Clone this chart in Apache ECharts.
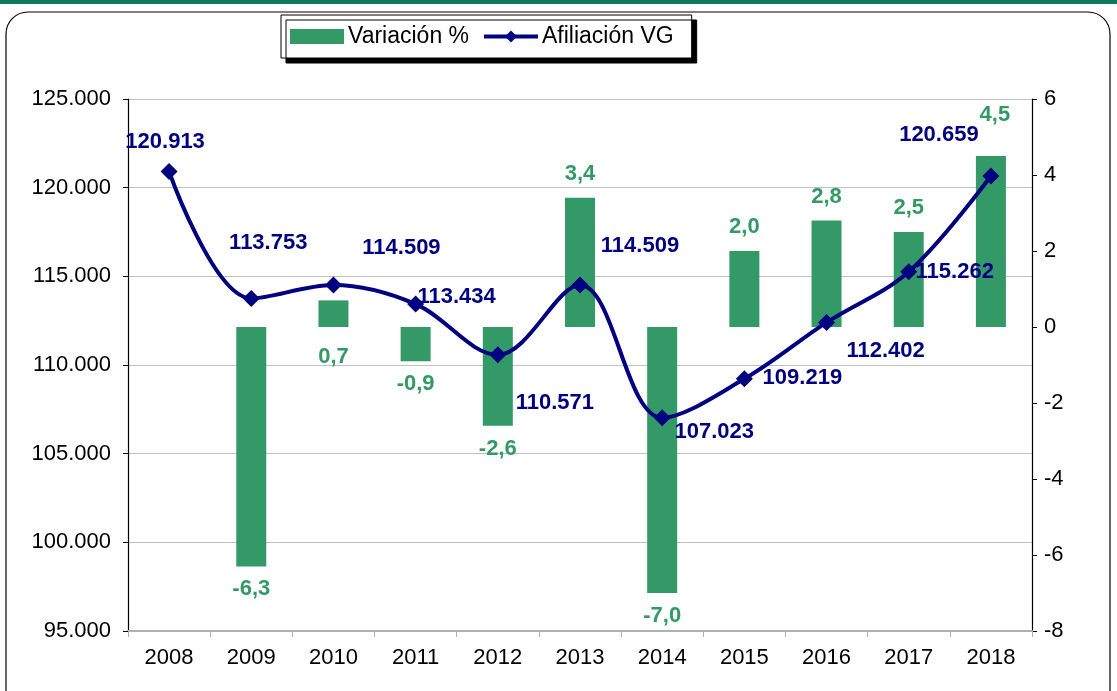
<!DOCTYPE html>
<html>
<head>
<meta charset="utf-8">
<script src="https://cdn.jsdelivr.net/npm/echarts@6/dist/echarts.min.js"></script>
<style>
  html, body { margin: 0; padding: 0; background: #fff; }
  #chart { width: 1117px; height: 691px; }
</style>
</head>
<body>
<div id="chart"></div>
<script>
// data
let years = ['2008', '2009', '2010', '2011', '2012', '2013', '2014', '2015', '2016', '2017', '2018'];
let variacion = [null, -6.3, 0.7, -0.9, -2.6, 3.4, -7.0, 2.0, 2.8, 2.5, 4.5];
let afiliacion = [120913, 113753, 114509, 113434, 110571, 114509, 107023, 109219, 112402, 115262, 120659];

// label offsets for the line labels, as placed in the original
let lineLabelOffsets = [[-4, -30], [17, -56], [68, -37], [41, -7], [57, 48], [60, -39], [52, 14], [58, -1], [59, 29], [46, 0], [-52, -41]];

let fontFam = 'Liberation Sans, Arial, sans-serif';

function fmtThousands(v) {
    return String(v).replace(/\B(?=(\d{3})+(?!\d))/g, '.');
}

let domObj = document.getElementById('chart');
let chart = echarts.init(domObj);

let barData = variacion.map(function (v, i) {
    if (v === null) {
        return null;
    }
    let item = { value: v, label: { position: v < 0 ? 'bottom' : 'top', distance: v < 0 ? 12 : 13 } };
    if (i === 2) {
        // 0,7 sits under the baseline in the original
        item.label = { position: 'bottom', distance: 8, offset: [0, 11] };
    }
    if (i === 10) {
        item.label.offset = [4, -17];
    }
    return item;
});

let lineData = afiliacion.map(function (v, i) {
    return { value: v, label: { offset: lineLabelOffsets[i] } };
});

let curOpts = {
    animation: false,
    textStyle: { fontFamily: fontFam },
    graphic: [
        {
            type: 'rect',
            shape: { x: 0, y: 0, width: 1117, height: 4 },
            style: { fill: '#0f7a5c' },
            silent: true,
        },
        {
            type: 'rect',
            shape: { x: 6, y: 12, width: 1104, height: 700, r: 22 },
            style: { fill: 'none', stroke: '#000', lineWidth: 1.2 },
            silent: true,
            z: -1,
        },
    ],
    legend: {
        top: 15,
        left: 281,
        itemGap: 13,
        padding: [10, 18, 10, 9],
        backgroundColor: '#fff',
        borderColor: '#000',
        borderWidth: 1,
        shadowColor: '#000',
        shadowOffsetX: 5,
        shadowOffsetY: 5,
        shadowBlur: 0,
        itemWidth: 54,
        itemHeight: 15,
        textStyle: { fontSize: 23, color: '#000', fontFamily: fontFam, padding: [0, 0, 0, -1] },
        data: [
            { name: 'Variación %', icon: 'rect' },
            { name: 'Afiliación VG', lineStyle: { width: 4 } },
        ],
    },
    grid: {
        left: 128,
        right: 85,
        top: 99,
        bottom: 60,
    },
    xAxis: {
        type: 'category',
        data: years,
        axisLine: { onZero: false, lineStyle: { color: '#b0b0b0', width: 2 } },
        axisTick: { show: true, length: 6, lineStyle: { color: '#b0b0b0' } },
        axisLabel: { color: '#000', fontSize: 22, margin: 16 },
    },
    yAxis: [
        {
            type: 'value',
            min: 95000,
            max: 125000,
            interval: 5000,
            position: 'left',
            axisLine: { show: true, lineStyle: { color: '#000', width: 1.2 } },
            axisTick: { show: true, length: 5, lineStyle: { color: '#000' } },
            splitLine: { lineStyle: { color: '#c0c0c0' } },
            axisLabel: {
                color: '#000',
                fontSize: 22,
                margin: 17,
                formatter: fmtThousands,
            },
        },
        {
            type: 'value',
            min: -8,
            max: 6,
            interval: 2,
            position: 'right',
            axisLine: { show: true, lineStyle: { color: '#000', width: 1.2 } },
            axisTick: { show: true, length: 5, lineStyle: { color: '#000' } },
            splitLine: { show: false },
            axisLabel: { color: '#000', fontSize: 22, margin: 12 },
        },
    ],
    series: [
        {
            name: 'Variación %',
            type: 'bar',
            yAxisIndex: 1,
            barWidth: 30,
            itemStyle: { color: '#339966' },
            label: {
                show: true,
                color: '#339966',
                fontSize: 22,
                fontWeight: 'bold',
                fontFamily: fontFam,
                formatter: function (p) {
                    return p.value.toFixed(1).replace('.', ',');
                },
            },
            data: barData,
            z: 2,
        },
        {
            name: 'Afiliación VG',
            type: 'line',
            yAxisIndex: 0,
            smooth: 0.35,
            symbol: 'diamond',
            symbolSize: 17,
            lineStyle: { color: '#000080', width: 4 },
            itemStyle: { color: '#000080' },
            label: {
                show: true,
                position: 'inside',
                color: '#000080',
                fontSize: 22,
                fontWeight: 'bold',
                fontFamily: fontFam,
                formatter: function (p) {
                    return fmtThousands(p.value);
                },
            },
            data: lineData,
            z: 3,
        },
    ],
};

chart.setOption(curOpts, true);
</script>
</body>
</html>
